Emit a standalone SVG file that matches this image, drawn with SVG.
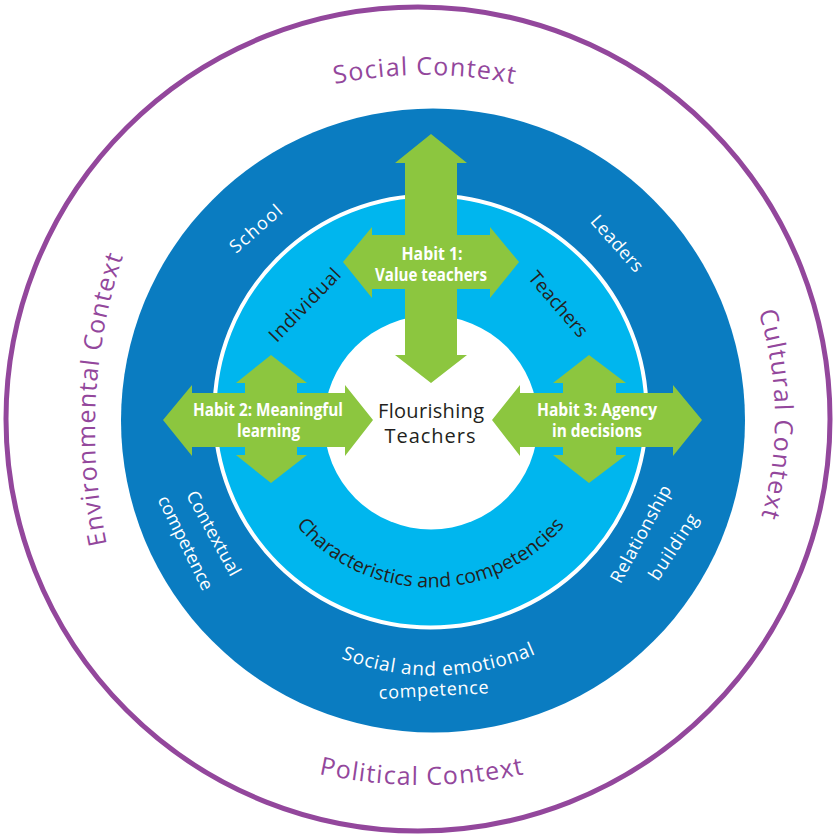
<svg xmlns="http://www.w3.org/2000/svg" width="836" height="836" viewBox="0 0 836 836">
<style>
.ctx{font-family:"Open Sans","Liberation Sans",sans-serif;font-size:25px;fill:#93479c;letter-spacing:1.2px}
.wt{font-family:"Open Sans","Liberation Sans",sans-serif;font-size:18px;fill:#ffffff}
.dk{font-family:"Open Sans","Liberation Sans",sans-serif;font-size:19px;fill:#231f20}
.hb{font-family:"Open Sans","Liberation Sans",sans-serif;font-size:17px;font-weight:700;fill:#ffffff}
.ctr{font-family:"Open Sans","Liberation Sans",sans-serif;font-size:20px;fill:#231f20}
.arrow{fill:#8cc63f}
</style>
<defs>
<path id="pSocial" d="M-25,525 A450,450 0 0 1 875,525"/>
<path id="pPolitical" d="M-63,300 A485,485 0 0 0 907,300"/>
<path id="pEnv" d="M650,985 A555,555 0 0 1 650,-125"/>
<path id="pCult" d="M418,62 A357,357 0 0 1 418,776"/>
<path id="pChar" d="M254.5,411.5 A176,176 0 0 0 606.5,411.5"/>
<path id="pSoc" d="M178.5,420.5 A255,255 0 0 0 688.5,420.5"/>
</defs>
<rect width="836" height="836" fill="#ffffff"/>

<g id="context-ring">
<circle cx="418" cy="419" r="412" fill="#ffffff" stroke="#93479c" stroke-width="5"/>
<text class="ctx" text-anchor="middle"><textPath href="#pSocial" startOffset="50%">Social Context</textPath></text>
<text class="ctx" text-anchor="middle"><textPath href="#pPolitical" startOffset="50%">Political Context</textPath></text>
<text class="ctx" text-anchor="middle"><textPath href="#pEnv" startOffset="51.8%">Environmental Context</textPath></text>
<text class="ctx" text-anchor="middle"><textPath href="#pCult" startOffset="49.6%">Cultural Context</textPath></text>
</g>

<g id="school-ring">
<circle cx="433" cy="420.5" r="312" fill="#0a7cc1"/>
<text class="wt" text-anchor="middle" transform="translate(259.8,233.4) rotate(-41)" textLength="63">School</text>
<text class="wt" text-anchor="middle" transform="translate(612.5,247.5) rotate(48.4)" textLength="69">Leaders</text>
<text class="wt" text-anchor="middle" transform="translate(208.2,536.3) rotate(61.3)" textLength="94">Contextual</text>
<text class="wt" text-anchor="middle" transform="translate(180,545.6) rotate(63.7)" textLength="103">competence</text>
<text class="wt" text-anchor="middle" transform="translate(646.3,536.9) rotate(-61.6)" textLength="108">Relationship</text>
<text class="wt" text-anchor="middle" transform="translate(678.4,550.2) rotate(-57)" textLength="75">building</text>
<text class="wt" text-anchor="middle" style="font-size:19px;letter-spacing:0.8px"><textPath href="#pSoc" startOffset="50.7%">Social and emotional</textPath></text>
<text class="wt" text-anchor="middle" transform="translate(434,696) rotate(-3)" textLength="110">competence</text>
</g>

<g id="individual-ring">
<circle cx="430.5" cy="411.5" r="216" fill="#00b6ee" stroke="#ffffff" stroke-width="4"/>
<text class="dk" text-anchor="middle" transform="translate(309.5,309.5) rotate(-46)" textLength="94">Individual</text>
<text class="dk" text-anchor="middle" transform="translate(553.3,308.3) rotate(49.4)" textLength="80">Teachers</text>
<text class="dk" text-anchor="middle" style="font-size:19.5px"><textPath href="#pChar" startOffset="50%">Characteristics and competencies</textPath></text>
</g>

<g id="flourishing-teachers">
<circle cx="431" cy="422.5" r="107" fill="#ffffff"/>
<text class="ctr" x="431" y="418" text-anchor="middle" textLength="106">Flourishing</text>
<text class="ctr" x="430" y="443" text-anchor="middle" textLength="91">Teachers</text>
</g>

<g id="connectors">
<g id="habit1">
<polygon class="arrow" points="431,134 467,163 457,163 457,235 490,235 490,227 519,262 490,298 490,289 457,289 457,355 467,355 431,383 395,355 405,355 405,289 372,289 372,298 343,262 372,227 372,235 405,235 405,163 395,163"/>
<text class="hb" x="432" y="260" text-anchor="middle" textLength="61" lengthAdjust="spacingAndGlyphs">Habit 1:</text>
<text class="hb" x="431" y="281" text-anchor="middle" textLength="112" lengthAdjust="spacingAndGlyphs">Value teachers</text>
</g>
<g id="habit2">
<polygon class="arrow" points="271,355 307,383 297,383 297,393 345,393 345,385 373,420 345,456 345,447 297,447 297,455 307,455 271,483 236,455 245,455 245,447 192,447 192,456 163,420 192,385 192,393 245,393 245,383 236,383"/>
<text class="hb" x="268" y="416" text-anchor="middle" textLength="150" lengthAdjust="spacingAndGlyphs">Habit 2: Meaningful</text>
<text class="hb" x="268.5" y="437" text-anchor="middle" textLength="63" lengthAdjust="spacingAndGlyphs">learning</text>
</g>
<g id="habit3">
<polygon class="arrow" points="589,355 626,383 616,383 616,393 673,393 673,385 702,420 673,456 673,447 616,447 616,455 626,455 589,483 553,455 563,455 563,447 520,447 520,456 492,420 520,385 520,393 563,393 563,383 553,383"/>
<text class="hb" x="597" y="416" text-anchor="middle" textLength="120" lengthAdjust="spacingAndGlyphs">Habit 3: Agency</text>
<text class="hb" x="597" y="437" text-anchor="middle" textLength="90" lengthAdjust="spacingAndGlyphs">in decisions</text>
</g>
</g>
</svg>
